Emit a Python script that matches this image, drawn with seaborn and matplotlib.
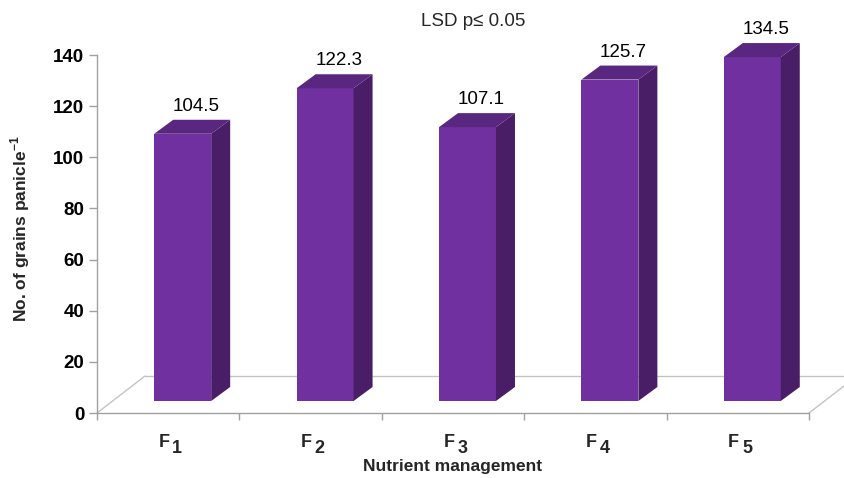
import matplotlib
matplotlib.use("Agg")
import matplotlib.pyplot as plt
from matplotlib.patches import Polygon
from matplotlib.lines import Line2D
from matplotlib.ticker import FixedLocator
import seaborn as sns
import pandas as pd

# Data
treatments = ["F1", "F2", "F3", "F4", "F5"]
treatment_subs = ["1", "2", "3", "4", "5"]
grains = [104.5, 122.3, 107.1, 125.7, 134.5]
y_ticks = [0, 20, 40, 60, 80, 100, 120, 140]

sns.set_theme(style="white")
plt.rcParams["font.family"] = ["Liberation Sans", "DejaVu Sans"]
plt.rcParams["mathtext.fontset"] = "custom"
plt.rcParams["mathtext.rm"] = "Liberation Sans"
plt.rcParams["mathtext.bf"] = "Liberation Sans:bold"

FRONT = "#7030A0"
SIDE = "#4A1E66"
TOP = "#592680"
AXIS_GREY = "#A0A0A0"
FLOOR_GREY = "#C4C4C4"

W, H = 845, 478
fig = plt.figure(figsize=(W / 100, H / 100), dpi=100)
ax_left, ax_right, ax_bottom, ax_top = 97, 809, 413, 55
ax = fig.add_axes([ax_left / W, (H - ax_bottom) / H,
                   (ax_right - ax_left) / W, (ax_bottom - ax_top) / H])

ymax = 140
px_x = (ax_right - ax_left) / len(treatments)   # pixels per category
px_y = (ax_bottom - ax_top) / ymax               # pixels per value unit

# pseudo-3D geometry (pixels -> data units)
lift = 12 / px_y          # bars stand slightly inside the floor
shift = 14.5 / px_x       # front face shifted back-right inside the slot
depth_dx = 19 / px_x
depth_dy = 14 / px_y
floor_dx = 48 / px_x
floor_dy = 37 / px_y

df = pd.DataFrame({"treatment": treatments, "grains": grains})
sns.barplot(data=df, x="treatment", y="grains", color=FRONT, saturation=1,
            width=0.40, bottom=lift, edgecolor="none", linewidth=0,
            errorbar=None, ax=ax, zorder=3)

ax.set_xlim(-0.5, len(treatments) - 0.5)
ax.set_ylim(0, ymax)

# floor of the 3D box
x_lo, x_hi = -0.5, len(treatments) - 0.5
floor = [((x_lo, x_lo + floor_dx), (0, floor_dy)),
         ((x_lo + floor_dx, x_hi + floor_dx), (floor_dy, floor_dy)),
         ((x_hi, x_hi + floor_dx), (0, floor_dy))]
for xs, ys in floor:
    ax.add_line(Line2D(xs, ys, color=FLOOR_GREY, lw=1.0, clip_on=False, zorder=1))

# side and top faces plus value labels
for p, val in zip(ax.patches, grains):
    p.set_x(p.get_x() + shift)
    x0, y0, w, h = p.get_x(), p.get_y(), p.get_width(), p.get_height()
    side = Polygon([(x0 + w, y0), (x0 + w + depth_dx, y0 + depth_dy),
                    (x0 + w + depth_dx, y0 + h + depth_dy), (x0 + w, y0 + h)],
                   closed=True, facecolor=SIDE, edgecolor="none",
                   clip_on=False, zorder=3)
    top = Polygon([(x0, y0 + h), (x0 + depth_dx, y0 + h + depth_dy),
                   (x0 + w + depth_dx, y0 + h + depth_dy), (x0 + w, y0 + h)],
                  closed=True, facecolor=TOP, edgecolor="none",
                  clip_on=False, zorder=3)
    ax.add_patch(side)
    ax.add_patch(top)
    ax.text(x0 + (w + depth_dx) / 2 + 0.03, y0 + h + depth_dy + 5.2,
            f"{val:.1f}", ha="center", va="center", fontsize=13.5,
            color="black", clip_on=False)

# axes styling
for s in ["top", "right"]:
    ax.spines[s].set_visible(False)
ax.spines["left"].set_color(AXIS_GREY)
ax.spines["bottom"].set_color(AXIS_GREY)
ax.spines["left"].set_linewidth(1.0)
ax.spines["bottom"].set_linewidth(1.0)

ax.set_yticks(y_ticks)
ax.set_yticklabels([str(v) for v in y_ticks], fontsize=13.5, fontweight="bold")
ax.tick_params(axis="y", which="major", left=True, length=6, width=1,
               color=AXIS_GREY, pad=3, labelcolor="black")

ax.set_xticks(range(len(treatments)))
ax.set_xticklabels([])
ax.tick_params(axis="x", which="major", length=0)
ax.xaxis.set_minor_locator(FixedLocator([i - 0.5 for i in range(len(treatments) + 1)]))
ax.tick_params(axis="x", which="minor", bottom=True, length=5, width=1,
               color=AXIS_GREY)
ax.set_xlabel("")
ax.set_ylabel("")

# category labels with subscripts
for i, sub in enumerate(treatment_subs):
    ax.annotate("F", xy=(i, 0), xycoords=("data", "axes fraction"),
                xytext=(1, -21), textcoords="offset points",
                ha="right", va="center", fontsize=13, fontweight="bold")
    ax.annotate(sub, xy=(i, 0), xycoords=("data", "axes fraction"),
                xytext=(3, -25.5), textcoords="offset points",
                ha="left", va="center", fontsize=13, fontweight="bold")

fig.text(453 / W, 1 - 466 / H, "Nutrient management", ha="center", va="center",
         fontsize=12.5, fontweight="bold")
fig.text(20 / W, 1 - 229 / H, r"No. of grains panicle$^{\mathbf{-1}}$",
         rotation=90, ha="center", va="center", fontsize=12.5, fontweight="bold")
fig.text(473 / W, 1 - 22 / H, "LSD p\u2264 0.05", ha="center", va="center",
         fontsize=13.5)

fig.savefig("out.png", dpi=100)
